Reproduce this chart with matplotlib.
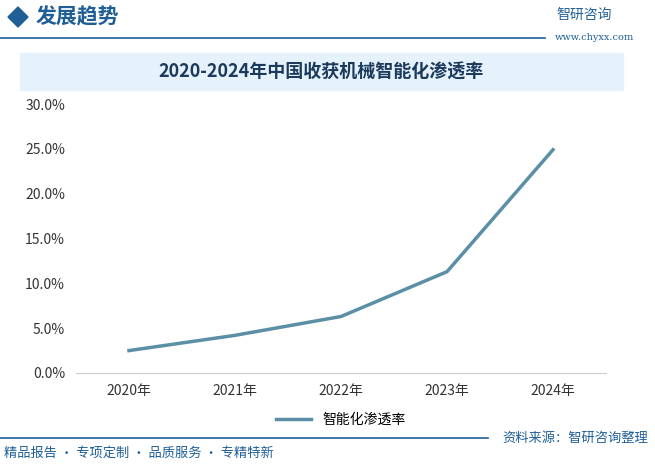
import numpy as np
import matplotlib.pyplot as plt
from matplotlib.patches import Rectangle, Polygon

plt.rcParams['font.family'] = ['Noto Sans CJK SC', 'DejaVu Sans']

years = ['2020年', '2021年', '2022年', '2023年', '2024年']
rate = [2.5, 4.2, 6.3, 11.3, 24.9]
yticks = [0, 5, 10, 15, 20, 25, 30]

W, H = 655, 468
fig = plt.figure(figsize=(W / 100, H / 100), dpi=100)

def fx(px): return px / W
def fy(py): return 1 - py / H

# header
fig.patches.append(Polygon([[fx(8), fy(17)], [fx(18), fy(7)], [fx(28), fy(17)], [fx(18), fy(27)]],
                           closed=True, color='#1f5f96', transform=fig.transFigure))
fig.text(fx(36), fy(17), '发展趋势', fontsize=15, color='#1f5f96', va='center', weight='bold')
fig.add_artist(plt.Line2D([0, fx(545)], [fy(38), fy(38)], color='#1f5f96', lw=1.2))
fig.text(fx(556), fy(15), '智研咨询', fontsize=10, color='#1f5f96', va='center')
fig.text(fx(634), fy(38), 'www.chyxx.com', fontsize=7, color='#1f5f96', va='center', ha='right',
         family='DejaVu Serif')

# title band
fig.patches.append(Rectangle((fx(20), fy(90)), fx(603), 37 / H, color='#e5f2fb',
                             transform=fig.transFigure))
fig.text(fx(321), fy(72), '2020-2024年中国收获机械智能化渗透率', fontsize=13,
         color='#1b3a5c', ha='center', va='center', weight='bold')

# chart
ax = fig.add_axes([fx(76), fy(373), fx(530), (373 - 104) / H])
x = np.arange(len(years))
ax.plot(x, rate, color='#5b8fa6', lw=2.5, label='智能化渗透率')
ax.set_xlim(-0.5, len(years) - 0.5)
ax.set_ylim(0, 30)
ax.set_yticks(yticks)
ax.set_yticklabels([f'{v:.1f}%' for v in yticks], fontsize=10, color='#333333')
ax.set_xticks(x)
ax.set_xticklabels(years, fontsize=10, color='#333333')
ax.tick_params(length=0, pad=8)
for s in ['top', 'right', 'left']:
    ax.spines[s].set_visible(False)
ax.spines['bottom'].set_color('#cccccc')
ax.legend(loc='upper center', bbox_to_anchor=(0.5, -0.1), frameon=False, fontsize=10,
          handlelength=2.5)

# footer
fig.add_artist(plt.Line2D([0, fx(488)], [fy(438), fy(438)], color='#1f5f96', lw=1.2))
fig.text(fx(4), fy(453), '精品报告 · 专项定制 · 品质服务 · 专精特新', fontsize=9.5,
         color='#1f5f96', va='center')
fig.text(fx(648), fy(438), '资料来源：智研咨询整理', fontsize=9.5, color='#1f5f96',
         va='center', ha='right')

fig.savefig('out.png', dpi=100)
